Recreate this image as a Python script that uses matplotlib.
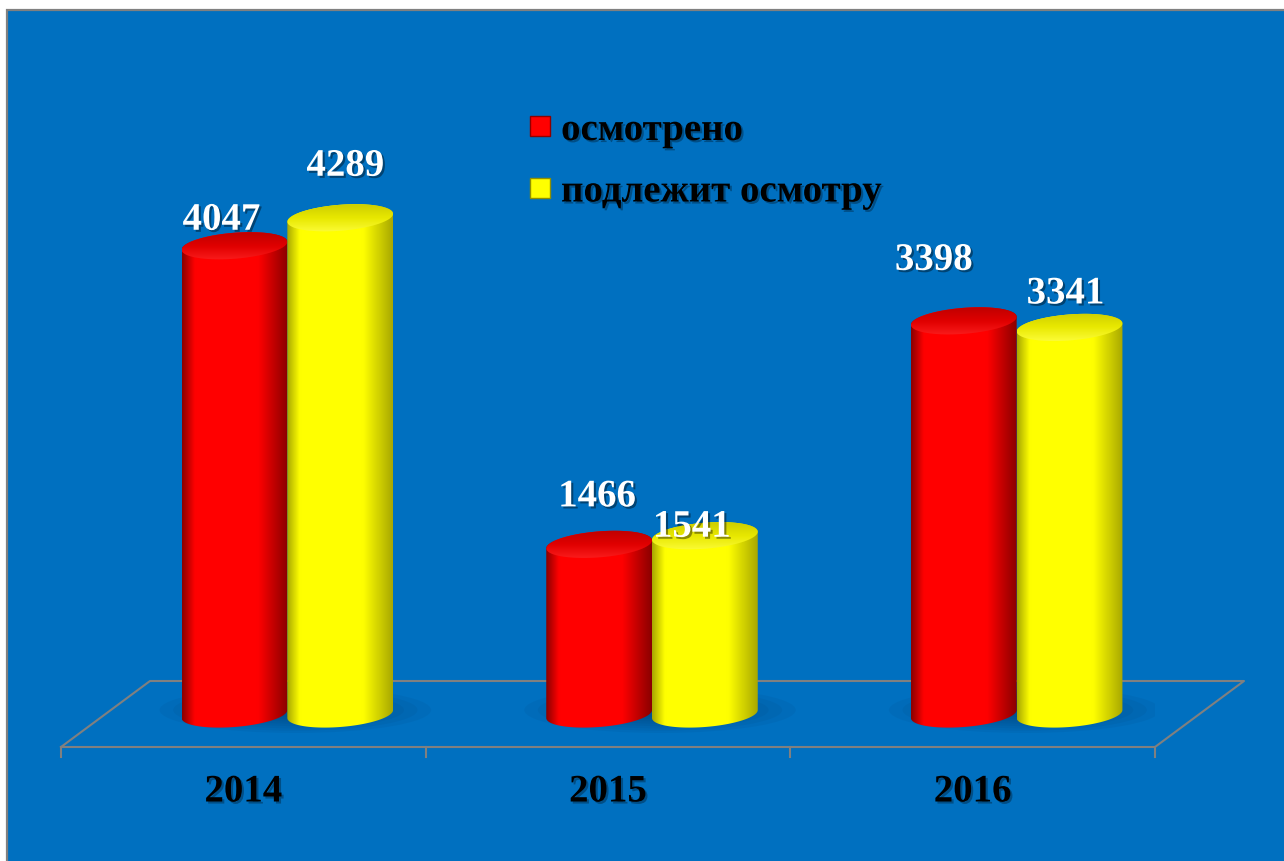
import matplotlib
matplotlib.use("Agg")
import matplotlib.pyplot as plt
import numpy as np
from matplotlib.patches import Polygon, Rectangle, Ellipse
from matplotlib.colors import LinearSegmentedColormap
from matplotlib.lines import Line2D
import matplotlib.patheffects as pe

# ---- data ----
years = ["2014", "2015", "2016"]
examined = [4047, 1466, 3398]
to_examine = [4289, 1541, 3341]
series_names = ["осмотрено", "подлежит осмотру"]

# per-label nudges (pixels) from the top centre of each cylinder
red_lbl_dx = [-13, -2, -30]
red_lbl_dy = [16, 38, 51]
yel_lbl_dx = [5, -13, -4]
yel_lbl_dy = [42, -1, 24]

W, H, DPI = 1284, 861, 100
FONT = "Liberation Serif"

fig = plt.figure(figsize=(W / DPI, H / DPI), dpi=DPI)
fig.patch.set_facecolor("white")
fig.add_artist(Rectangle((7 / W, -0.1), 1.2, (H - 10) / H + 0.1, transform=fig.transFigure,
                         facecolor="#0070C0", edgecolor="#808080", lw=1.6, zorder=0))

# axes = front plane of the floor
ax_w_px, ax_h_px = 1094, 578.5
ax = fig.add_axes([61 / W, (H - 747) / H, ax_w_px / W, ax_h_px / H])
ax.patch.set_alpha(0)
ax.axis("off")
XMIN, XMAX, YMAX = -0.5, 2.5, 5000

px_x = ax_w_px / (XMAX - XMIN)
px_y = ax_h_px / YMAX
ux = lambda p: p / px_x
uy = lambda p: p / px_y

bar_w = 0.29
a = bar_w / 2
b = uy(13)
s = uy(4)
depth_dx, depth_dy = ux(44), uy(33)
shift = [-0.145, 0.145]


def ell(cx, cy, t):
    return cx + a * np.cos(t), cy + b * np.sin(t) + s * np.cos(t)


def body_cmap(dark, bright, name):
    return LinearSegmentedColormap.from_list(
        name, [(0, dark), (0.12, bright), (0.72, bright), (1, dark)])


red_body = body_cmap("#8A0000", "#FF0000", "rb")
yel_body = body_cmap("#A8A800", "#FFFF00", "yb")
red_top = LinearSegmentedColormap.from_list("rt", ["#B80000", "#E00000", "#FF2020"])
yel_top = LinearSegmentedColormap.from_list("yt", ["#C8C800", "#E8E800", "#FFFF40"])


def cylinder(cx, h, cb, ct, z):
    x0 = cx + depth_dx
    y0 = depth_dy
    y1 = depth_dy + h
    tf = np.linspace(np.pi, 2 * np.pi, 80)
    tb = np.linspace(0, np.pi, 80)
    bx, by = ell(x0, y0, tf)
    tx, ty = ell(x0, y1, tb)
    body = Polygon(np.column_stack([np.r_[bx, tx], np.r_[by, ty]]), closed=True,
                   facecolor="none", edgecolor="none")
    ax.add_patch(body)
    grad = np.linspace(0, 1, 256).reshape(1, -1)
    im = ax.imshow(grad, cmap=cb, aspect="auto", interpolation="bicubic",
                   extent=[x0 - a, x0 + a, y0 - b - s, y1 + b + s], zorder=z)
    im.set_clip_path(body)

    ta = np.linspace(0, 2 * np.pi, 160)
    ex, ey = ell(x0, y1, ta)
    top = Polygon(np.column_stack([ex, ey]), closed=True, facecolor="none", edgecolor="none")
    ax.add_patch(top)
    im2 = ax.imshow(np.linspace(0, 1, 64).reshape(-1, 1), cmap=ct, aspect="auto",
                    interpolation="bicubic",
                    extent=[x0 - a, x0 + a, y1 - b - s, y1 + b + s], zorder=z + 0.1)
    im2.set_clip_path(top)
    return x0, y1


# floor
fx = [XMIN, XMAX, XMAX + ux(89), XMIN + ux(89), XMIN]
fy = [0, 0, uy(66), uy(66), 0]
ax.plot(fx, fy, color="#808080", lw=1.5, clip_on=False, zorder=1)
for xt in np.arange(XMIN, XMAX + 0.01, 1.0):
    ax.plot([xt, xt], [0, -uy(10)], color="#808080", lw=1.5, clip_on=False, zorder=1)

# soft shadows under each pair
for i in range(len(years)):
    for k in range(8):
        f = 1 - k * 0.1
        ax.add_patch(Ellipse((i + depth_dx + ux(8), depth_dy + uy(4)),
                             (2 * bar_w + ux(60)) * f, uy(46) * f,
                             facecolor="#002850", edgecolor="none", alpha=0.06, zorder=2))

shadow_txt = [pe.withSimplePatchShadow(offset=(1.5, -1.5), shadow_rgbFace="black", alpha=0.4)]

for i in range(len(years)):
    xr, yr = cylinder(i + shift[0], examined[i], red_body, red_top, 3)
    xy, yy = cylinder(i + shift[1], to_examine[i], yel_body, yel_top, 4)
    ax.annotate(str(examined[i]), (xr, yr), xytext=(red_lbl_dx[i], red_lbl_dy[i]),
                textcoords="offset pixels", ha="center", va="baseline",
                fontsize=28, fontweight="bold", family=FONT, color="white",
                path_effects=shadow_txt, zorder=10, annotation_clip=False)
    ax.annotate(str(to_examine[i]), (xy, yy), xytext=(yel_lbl_dx[i], yel_lbl_dy[i]),
                textcoords="offset pixels", ha="center", va="baseline",
                fontsize=28, fontweight="bold", family=FONT, color="white",
                path_effects=shadow_txt, zorder=10, annotation_clip=False)
    ax.text(i, -uy(45), years[i], ha="center", va="center", fontsize=28,
            fontweight="bold", family=FONT, color="black",
            path_effects=[pe.withSimplePatchShadow(offset=(1.5, -1.5), alpha=0.3)])

ax.set_xlim(XMIN, XMAX)
ax.set_ylim(0, YMAX)

handles = [Line2D([], [], marker="s", ls="none", markersize=14,
                  markerfacecolor="#FF0000", markeredgecolor="#900000"),
           Line2D([], [], marker="s", ls="none", markersize=14,
                  markerfacecolor="#FFFF00", markeredgecolor="#909000")]
leg = fig.legend(handles, series_names, loc="upper left",
                 bbox_to_anchor=(528 / W, 1 - 112 / H), frameon=False,
                 borderaxespad=0, borderpad=0, handlelength=0.6, handletextpad=0.25,
                 labelspacing=0.63,
                 prop={"family": FONT, "weight": "bold", "size": 28})
for t in leg.get_texts():
    t.set_path_effects([pe.withSimplePatchShadow(offset=(1.5, -1.5), alpha=0.3)])

fig.savefig("out.png", dpi=DPI)
